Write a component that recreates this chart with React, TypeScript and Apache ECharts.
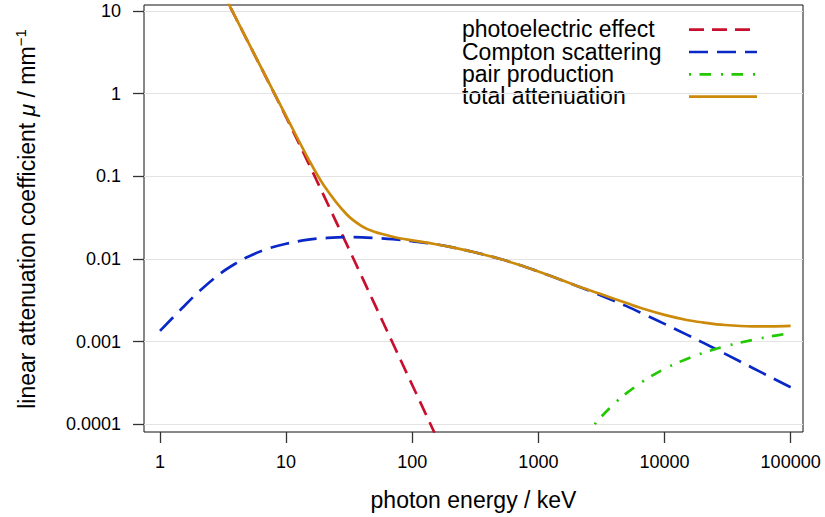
import React, { useEffect, useRef } from "react";
import * as echarts from "echarts";

// ---- tick labels ----
const xTickLabels = ["1", "10", "100", "1000", "10000", "100000"];
const yTickLabels = ["0.0001", "0.001", "0.01", "0.1", "1", "10"];

// ---- titles / names ----
const xTitle = "photon energy / keV";
const seriesNames = [
  "photoelectric effect",
  "Compton scattering",
  "pair production",
  "total attenuation",
];

// ---- data (energy in keV, mu in 1/mm) ----
const photoEnergy = [3, 4, 5, 7, 10, 15, 20, 30, 40, 50, 70, 100, 150];
const photoMu = [19.5, 8.17, 4.19, 1.531, 0.521, 0.1455, 0.0575, 0.01542, 0.00603, 0.0029, 0.000962, 0.000299, 0.0000791];

const comptonEnergy = [1, 1.5, 2, 3, 4, 5, 7, 10, 15, 20, 30, 40, 50, 70, 100, 150, 200, 300, 500, 700, 1000, 1500, 2000, 3000, 5000, 7000, 10000, 15000, 20000, 30000, 50000, 70000, 100000];
const comptonMu = [0.00135, 0.00255, 0.00393, 0.00665, 0.00887, 0.01067, 0.01315, 0.01528, 0.01718, 0.01786, 0.01837, 0.01828, 0.01799, 0.01738, 0.0164, 0.01514, 0.014, 0.01225, 0.00998, 0.00851, 0.00705, 0.00562, 0.00475, 0.00373, 0.00269, 0.00212, 0.00164, 0.001216, 0.00098, 0.000717, 0.000481, 0.00037, 0.000281];

const pairEnergy = [2800, 3000, 4000, 5000, 7000, 10000, 15000, 20000, 30000, 50000, 70000, 100000];
const pairMu = [0.0001, 0.000114, 0.000178, 0.000238, 0.000343, 0.000469, 0.000618, 0.000726, 0.000875, 0.00105, 0.001159, 0.001268];

const totalEnergy = [3, 4, 5, 7, 10, 15, 20, 30, 40, 50, 70, 100, 150, 200, 300, 500, 700, 1000, 1500, 2000, 3000, 5000, 7000, 10000, 15000, 20000, 30000, 50000, 70000, 100000];
const totalMu = [19.5, 8.18, 4.2, 1.544, 0.536, 0.163, 0.077, 0.035, 0.0248, 0.0213, 0.0186, 0.0168, 0.0152, 0.014, 0.01225, 0.00998, 0.00851, 0.00705, 0.00562, 0.00475, 0.00384, 0.00293, 0.00246, 0.00211, 0.00183, 0.00171, 0.00159, 0.00153, 0.00153, 0.00155];

const toLog = (e: number[], v: number[]) =>
  e.map((x, i) => [Math.log10(x), Math.log10(v[i])]);

export default function App() {
  const ref = useRef<HTMLDivElement>(null);
  useEffect(() => {
    document.body.style.margin = "0";
    const chart = echarts.init(ref.current!, null, { renderer: "svg" });
    const font = "'Liberation Sans', Arial, Helvetica, sans-serif";
    const xTicks = xTickLabels.map((s) => Math.round(Math.log10(Number(s))));
    const yTicks = yTickLabels.map((s) => Math.round(Math.log10(Number(s))));

    const styles = [
      { color: "#C8102E", type: [15, 8] as number[] },
      { color: "#0A28C8", type: [19, 9] as number[] },
      { color: "#22C800", type: [2, 8.5, 11.5, 10] as number[] },
      { color: "#CC8A0A", type: "solid" as any },
    ];
    const datasets = [
      toLog(photoEnergy, photoMu),
      toLog(comptonEnergy, comptonMu),
      toLog(pairEnergy, pairMu),
      toLog(totalEnergy, totalMu),
    ];

    const legendGraphics: any[] = [];
    seriesNames.forEach((name, i) => {
      const yc = 29.4 + i * 22.3;
      legendGraphics.push({
        type: "text",
        x: 462,
        y: yc,
        style: {
          text: name,
          font: `23px ${font}`,
          fill: "#000",
          align: "left",
          verticalAlign: "middle",
        },
      });
      legendGraphics.push({
        type: "line",
        shape: { x1: 689, y1: yc + 0.3, x2: 757, y2: yc + 0.3 },
        style: {
          stroke: styles[i].color,
          lineWidth: 2.7,
          lineDash: Array.isArray(styles[i].type) ? styles[i].type : null,
        },
      });
    });

    const option: any = {
      animation: false,
      backgroundColor: "#fff",
      grid: {
        left: 144,
        right: 22,
        top: 5,
        bottom: 85,
        show: true,
        borderColor: "#111",
        borderWidth: 1,
        backgroundColor: "transparent",
        outerBoundsMode: "none",
      },
      xAxis: {
        type: "value",
        min: -0.1268,
        max: 5.098,
        axisLine: { show: false, onZero: false },
        axisTick: {
          show: true,
          customValues: xTicks,
          length: 11,
          lineStyle: { color: "#333", width: 1.3 },
        },
        axisLabel: {
          customValues: xTicks,
          formatter: (v: number) => xTickLabels[xTicks.indexOf(Math.round(v))] ?? "",
          margin: 21,
          fontSize: 18,
          color: "#000",
          fontFamily: font,
        },
        splitLine: { show: false },
      },
      yAxis: {
        type: "value",
        min: -4.093,
        max: 1.0726,
        axisLine: { show: false, onZero: false },
        axisTick: {
          show: true,
          customValues: yTicks,
          length: 11,
          lineStyle: { color: "#333", width: 1.3 },
        },
        axisLabel: {
          customValues: yTicks,
          formatter: (v: number) => yTickLabels[yTicks.indexOf(Math.round(v))] ?? "",
          margin: 23,
          fontSize: 18,
          color: "#000",
          fontFamily: font,
        },
        splitLine: { show: true, lineStyle: { color: "#e3e3e3", width: 1.2 } },
      },
      series: seriesNames.map((name, i) => ({
        name,
        type: "line",
        data: datasets[i],
        showSymbol: false,
        symbol: "none",
        smooth: 0.35,
        silent: true,
        clip: true,
        lineStyle: { color: styles[i].color, width: 2.7, type: styles[i].type },
        z: 2 + i,
      })),
      graphic: [
        ...legendGraphics,
        {
          type: "text",
          x: 473.5,
          y: 499.5,
          style: {
            text: xTitle,
            font: `23px ${font}`,
            fill: "#000",
            align: "center",
            verticalAlign: "middle",
          },
        },
        {
          type: "text",
          x: 27,
          y: 219,
          rotation: Math.PI / 2,
          style: {
            text: "linear attenuation coefficient {it|μ} / mm{sup|−1}",
            font: `23px ${font}`,
            fontSize: 23,
            fontFamily: font,
            lineHeight: 28,
            fill: "#000",
            align: "center",
            verticalAlign: "middle",
            rich: {
              it: { fontStyle: "italic", fontSize: 23, fontFamily: font, lineHeight: 28, fill: "#000" },
              sup: { fontSize: 15, fontFamily: font, lineHeight: 14, verticalAlign: "top", fill: "#000" },
            },
          },
        },
      ],
    };
    chart.setOption(option);
    return () => chart.dispose();
  }, []);
  return (
    <div
      ref={ref}
      style={{ position: "fixed", left: 0, top: 0, width: 825, height: 517 }}
    />
  );
}
